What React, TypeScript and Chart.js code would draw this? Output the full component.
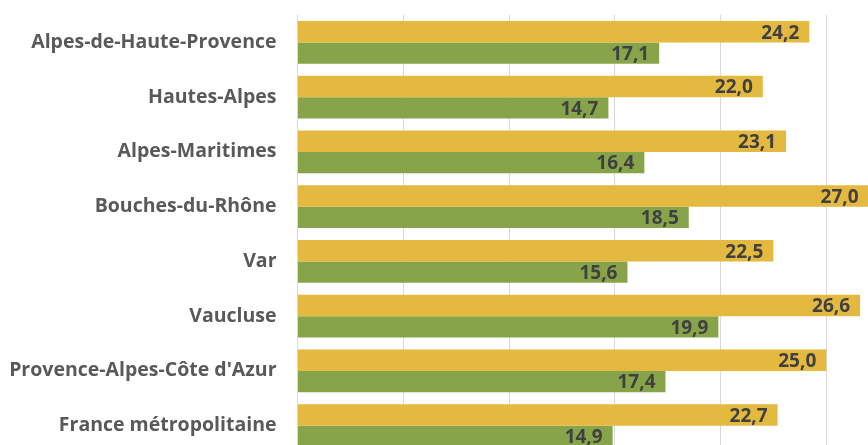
import React, { useEffect, useRef } from "react";
import { Chart, registerables } from "chart.js";

Chart.register(...registerables);

const categories = [
  "Alpes-de-Haute-Provence",
  "Hautes-Alpes",
  "Alpes-Maritimes",
  "Bouches-du-Rhône",
  "Var",
  "Vaucluse",
  "Provence-Alpes-Côte d'Azur",
  "France métropolitaine",
];
const seriesYellow = [24.2, 22.0, 23.1, 27.0, 22.5, 26.6, 25.0, 22.7];
const seriesGreen = [17.1, 14.7, 16.4, 18.5, 15.6, 19.9, 17.4, 14.9];

const FONT = "'Open Sans', 'Noto Sans', sans-serif";

const valueLabels = {
  id: "valueLabels",
  afterDatasetsDraw(chart: any) {
    const ctx = chart.ctx;
    ctx.save();
    ctx.font = `bold 19px ${FONT}`;
    ctx.fillStyle = "#404040";
    ctx.textAlign = "right";
    ctx.textBaseline = "middle";
    chart.data.datasets.forEach((ds: any, di: number) => {
      const meta = chart.getDatasetMeta(di);
      meta.data.forEach((bar: any, i: number) => {
        const v = ds.data[i] as number;
        const txt = v.toFixed(1).replace(".", ",");
        ctx.fillText(txt, bar.x - 10, bar.y + 1.5);
      });
    });
    ctx.restore();
  },
};

export default function App() {
  const ref = useRef<HTMLCanvasElement | null>(null);
  useEffect(() => {
    if (!ref.current) return;
    const chart = new Chart(ref.current, {
      type: "bar",
      data: {
        labels: categories,
        datasets: [
          {
            data: seriesYellow,
            backgroundColor: "#E4B93F",
            barPercentage: 1,
            categoryPercentage: 0.778,
          },
          {
            data: seriesGreen,
            backgroundColor: "#88A44A",
            barPercentage: 1,
            categoryPercentage: 0.778,
          },
        ],
      },
      options: {
        indexAxis: "y",
        responsive: false,
        animation: false,
        layout: { padding: { top: 15, bottom: 17, left: 0, right: 3 } },
        plugins: {
          legend: { display: false },
          tooltip: { enabled: false },
        },
        scales: {
          x: {
            min: 0,
            max: 30,
            ticks: { display: false, stepSize: 5 },
            grid: { color: "#D9D9D9", drawTicks: false },
            border: { display: false },
            afterFit: (s: any) => {
              s.height = 0;
              s.paddingLeft = 0;
              s.paddingRight = 0;
            },
          },
          y: {
            grid: { display: false, drawTicks: false },
            border: { display: true, color: "#D9D9D9" },
            ticks: {
              color: "#595959",
              font: { family: FONT, size: 19.5, weight: "bold" },
              padding: 21,
            },
            afterFit: (s: any) => {
              s.width = 297.5;
              s.paddingTop = 0;
              s.paddingBottom = 0;
            },
          },
        },
      },
      plugins: [valueLabels],
    });
    return () => chart.destroy();
  }, []);
  return (
    <div
      style={{
        position: "fixed",
        top: 0,
        left: 0,
        width: 868,
        height: 445,
        overflow: "hidden",
        background: "#fff",
      }}
    >
      <canvas ref={ref} width={935} height={470} style={{ display: "block" }} />
    </div>
  );
}
